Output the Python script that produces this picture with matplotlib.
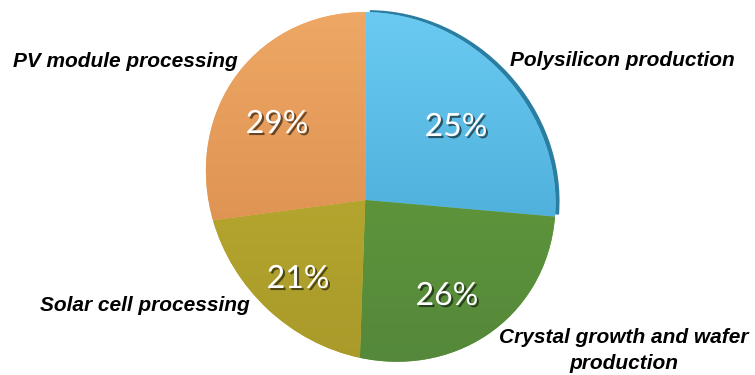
import numpy as np
import matplotlib
matplotlib.use('Agg')
from matplotlib import pyplot as plt
from matplotlib import transforms as mtransforms
from matplotlib import patheffects
from matplotlib.path import Path
from matplotlib.colors import LinearSegmentedColormap

# コスト内訳 (時計回り、12時の位置から)
stages = ['Polysilicon production', 'Crystal growth and wafer\nproduction',
          'Solar cell processing', 'PV module processing']
shares = [25, 26, 21, 29]

# 各扇形の上側・下側の色
top_colors = ['#6BCBF2', '#66A23C', '#C0B234', '#EFA865']
bottom_colors = ['#3E9FCE', '#55883A', '#A99A2A', '#D48747']
rim_color = '#2C7DA2'

# 文字の位置 (ピクセル座標)
pct_pos = [(456, 136), (447, 305), (298, 288), (277, 133)]
label_pos = [(510, 66, 'left'), (624, 343, 'center'), (40, 311, 'left'), (13, 67, 'left')]


class Homography(mtransforms.Transform):
    """
    射影変換 (円を斜めから見た形にする)
    """
    input_dims = 2
    output_dims = 2

    def __init__(self, m):
        super().__init__()
        self.m = m

    def transform_non_affine(self, values):
        v = np.asarray(values, dtype=float)
        p = np.column_stack([v, np.ones(len(v))]) @ self.m.T
        return p[:, :2] / p[:, 2:3]

    def transform_path_non_affine(self, path):
        return Path(self.transform_non_affine(path.vertices), path.codes)


def fit_homography(src, dst):
    rows = []
    for (x, y), (u, v) in zip(src, dst):
        rows.append([-x, -y, -1, 0, 0, 0, u * x, u * y, u])
        rows.append([0, 0, 0, -x, -y, -1, v * x, v * y, v])
    _, _, vt = np.linalg.svd(np.array(rows, dtype=float))
    return vt[-1].reshape(3, 3)


# 単位円上の点と画面上の点の対応
ang = np.deg2rad([89.1, 181.8, 256.6])
src = [(0, 0), (0, 1)] + [(np.sin(a), np.cos(a)) for a in ang]
dst = [(365, 203), (366, 12), (555, 215), (360, 358), (213, 219)]
H = Homography(fit_homography(src, dst))

fig = plt.figure(figsize=(7.55, 3.75), dpi=100)
ax = fig.add_axes([0, 0, 1, 1])

wedges, _ = ax.pie(shares, startangle=90, counterclock=False, radius=1,
                   colors=top_colors, wedgeprops=dict(linewidth=0))

ax.set_xlim(0, 755)
ax.set_ylim(375, 0)
ax.set_aspect('auto')
ax.axis('off')

proj = H + ax.transData

# 浮き上がった青い扇形の縁
blue = wedges[0]
rim = ax.add_patch(matplotlib.patches.Wedge(blue.center, blue.r, blue.theta1, blue.theta2,
                                            facecolor=rim_color, linewidth=0, zorder=0))
rim.set_transform(proj + mtransforms.Affine2D().translate(4, 2))

for i, w in enumerate(wedges):
    w.set_transform(proj)
    w.set_zorder(1)
    cmap = LinearSegmentedColormap.from_list('g%d' % i, [top_colors[i], bottom_colors[i]])
    grad = np.linspace(0, 1, 256).reshape(-1, 1)
    im = ax.imshow(grad, cmap=cmap, extent=(200, 565, 365, 5), aspect='auto',
                   interpolation='bilinear', zorder=2)
    im.set_clip_path(w)

ax.set_xlim(0, 755)
ax.set_ylim(375, 0)

# パーセント表示
shadow = [patheffects.SimplePatchShadow(offset=(1.5, -1.5), shadow_rgbFace='black', alpha=0.55),
          patheffects.Normal()]
for (x, y), s in zip(pct_pos, shares):
    ax.text(x, y, '%d%%' % s, ha='center', va='baseline', color='white',
            fontsize=23, family='Lato', zorder=5, path_effects=shadow)

# 項目名
for (x, y, ha), name in zip(label_pos, stages):
    lines = name.split('\n')
    for k, line in enumerate(lines):
        ax.text(x, y + 26 * k, line, ha=ha, va='baseline', fontsize=15,
                family='Liberation Sans', fontweight='bold', fontstyle='italic',
                color='black', zorder=5)

fig.savefig('out.png', dpi=100, facecolor='white')
